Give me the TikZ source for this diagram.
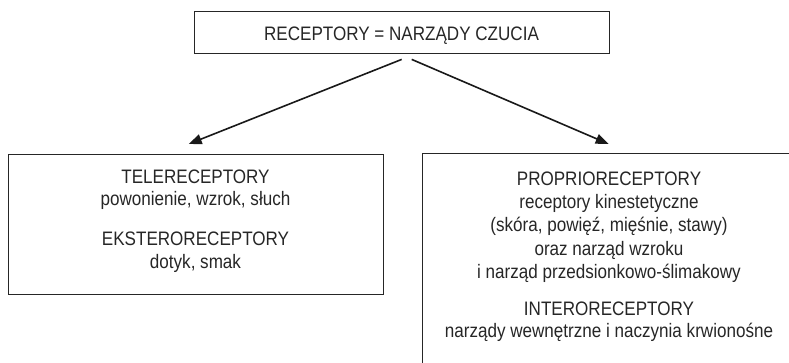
\documentclass[tikz,border=0pt]{standalone}
\usepackage{fontspec}
\setmainfont{Liberation Sans}[FakeStretch=0.875]
\usetikzlibrary{arrows.meta,calc}
\begin{document}
\begin{tikzpicture}[x=1pt,y=-1pt,
  box/.style={draw=black!85,line width=1.4pt,rectangle,inner sep=0pt,anchor=north west},
  txt/.style={anchor=base,inner sep=0pt,font=\fontsize{19.5}{23}\selectfont,text=black!85},
  arr/.style={line width=1.6pt,draw=black!90,-{Triangle[length=13pt,width=10pt]}}]
\useasboundingbox (0,0) rectangle (789,362);
\clip (0,0) rectangle (789,362);
\node[box,minimum width=415pt,minimum height=42pt] (top) at (194,11) {};
\node[box,minimum width=375pt,minimum height=140pt] (left) at (8,154) {};
\node[box,minimum width=378pt,minimum height=222pt] (right) at (422,153) {};
\node[txt] (t0) at (401.5,40) {RECEPTORY = NARZĄDY CZUCIA};
\node[txt] (l1) at (195.5,183) {TELERECEPTORY};
\node[txt] (l2) at (195.5,205) {powonienie, wzrok, słuch};
\node[txt] (l3) at (195.5,245) {EKSTERORECEPTORY};
\node[txt] (l4) at (195.5,268) {dotyk, smak};
\node[txt] (r1) at (609,185) {PROPRIORECEPTORY};
\node[txt] (r2) at (609,208) {receptory kinestetyczne};
\node[txt] (r3) at (609,231) {(skóra, powięź, mięśnie, stawy)};
\node[txt] (r4) at (609,255) {oraz narząd wzroku};
\node[txt] (r5) at (609,278) {i narząd przedsionkowo-ślimakowy};
\node[txt] (r6) at (609,315) {INTERORECEPTORY};
\node[txt] (r7) at (609,337) {narządy wewnętrzne i naczynia krwionośne};
\draw[arr] ($(top.south)+(-0.5,5)$) -- ($(left.north)+(-7.5,-10)$);
\draw[arr] ($(top.south)+(9.5,5)$) -- ($(right.north)+(-3,-9)$);
\end{tikzpicture}
\end{document}
